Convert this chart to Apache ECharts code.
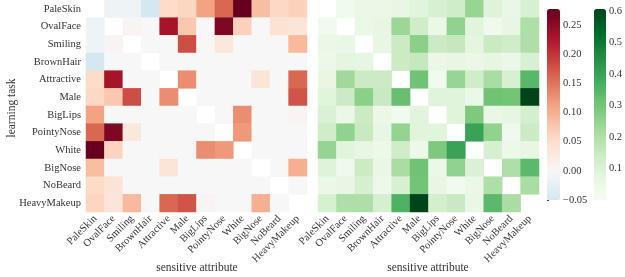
<!DOCTYPE html>
<html><head><meta charset="utf-8">
<script src="https://cdn.jsdelivr.net/npm/echarts@6/dist/echarts.min.js"></script>
<style>html,body{margin:0;padding:0;background:#fff}#c{width:625px;height:277px}</style>
</head><body><div id="c"></div>
<script>
const labels = ['PaleSkin','OvalFace','Smiling','BrownHair','Attractive','Male','BigLips','PointyNose','White','BigNose','NoBeard','HeavyMakeup'];
// left matrix (rows = learning task, cols = sensitive attribute); null = masked diagonal
const corrRows = [
[null,-0.013,-0.013,-0.05,0.052,0.06,0.112,0.16,0.277,0.085,0.058,0.065],
[-0.013,null,0.005,0,0.23,0.075,0,0.26,0.065,0,0.04,0.035],
[-0.013,0.005,null,0,0,0.18,0,0.03,0,0,0,0.09],
[-0.05,0,0,null,0,0,0,0,0,0,0,0],
[0.052,0.23,0,0,null,0.13,0,0,0,0.035,0,0.16],
[0.057,0.075,0.18,0,0.13,null,0,0,0,0,0,0.175],
[0.112,0,0,0,0,0,null,0,0.13,0,0,0.005],
[0.16,0.26,0.03,0,0,0,0,null,0.12,0,0,0],
[0.277,0.063,0,0,0,0,0.13,0.12,null,0,0,0],
[0.085,0,0,0,0.035,0,0,0,0,null,0,0.1],
[0.055,0.038,0,0,0,0,0,0,0,0,null,0],
[0.06,0.035,0.09,0,0.16,0.175,0.005,0,0,0.1,0,null]
];
// right matrix
const miRows = [
[null,0.025,0.05,0.05,0.065,0.085,0.11,0.13,0.243,0.09,0.055,0.11],
[0.025,null,0.05,0.065,0.235,0.13,0.05,0.255,0.085,0.035,0.058,0.2],
[0.05,0.055,null,0.065,0.14,0.265,0.14,0.155,0.075,0.145,0.13,0.2],
[0.045,0.075,0.07,null,0.14,0.155,0.05,0.065,0.05,0.07,0.05,0.11],
[0.065,0.228,0.14,0.14,null,0.31,0.025,0.243,0.13,0.21,0.11,0.345],
[0.085,0.14,0.265,0.15,0.32,null,0.088,0.088,0.05,0.31,0.303,0.607],
[0.1,0.05,0.14,0.05,0.025,0.08,null,0.088,0.285,0.055,0.07,0.12],
[0.13,0.255,0.15,0.058,0.25,0.085,0.085,null,0.4,0.255,0.03,0.14],
[0.245,0.085,0.06,0.045,0.13,0.045,0.285,0.4,null,0.115,0.045,0.06],
[0.09,0.035,0.14,0.055,0.21,0.31,0.05,0.255,0.1,null,0.2,0.34],
[0.05,0.058,0.115,0.045,0.11,0.305,0.065,0.025,0.05,0.2,null,0.21],
[0.11,0.2,0.2,0.115,0.36,0.607,0.12,0.15,0.055,0.34,0.21,null]
];
const corrMin = -0.05, corrMax = 0.277;
const miMin = 0, miMax = 0.607;
const corrTicks = [-0.05,0,0.05,0.10,0.15,0.20,0.25];
const miTicks = [0.1,0.2,0.3,0.4,0.5,0.6];

const RdBu_r = ['#053061','#2166ac','#4393c3','#92c5de','#d1e5f0','#f7f7f7','#fddbc7','#f4a582','#d6604d','#b2182b','#67001f'];
const Greens = ['#f7fcf5','#e5f5e0','#c7e9c0','#a1d99b','#74c476','#41ab5d','#238b45','#006d2c','#00441b'];
function hex(c){return [1,3,5].map(i=>parseInt(c.substr(i,2),16));}
function sample(stops,t){
  t=Math.max(0,Math.min(1,t));const n=stops.length-1;const p=t*n;const i=Math.min(Math.floor(p),n-1);const f=p-i;
  const a=hex(stops[i]),b=hex(stops[i+1]);
  return 'rgb('+a.map((v,k)=>Math.round(v+(b[k]-v)*f)).join(',')+')';
}
const N=80;
const vr=Math.max(corrMax,-corrMin);
const redColors=[];for(let k=0;k<=N;k++){const v=corrMin+(corrMax-corrMin)*k/N;redColors.push(sample(RdBu_r,0.5+v/(2*vr)));}
const greenColors=[];for(let k=0;k<=N;k++){greenColors.push(sample(Greens,k/N));}

function toData(rows){const d=[];rows.forEach((r,i)=>r.forEach((v,j)=>{if(v!==null)d.push([j,i,v]);}));return d;}

const font='Liberation Serif';
const tc='#333';
const cellGrid={top:0,height:212,width:221};
const ch=echarts.init(document.getElementById('c'),null,{renderer:'canvas'});
function catX(gi,showLabel){return {type:'category',gridIndex:gi,data:labels,axisLine:{show:false},axisTick:{show:false},splitLine:{show:false},
  axisLabel:{show:showLabel,rotate:45,margin:5,fontFamily:font,fontSize:10.5,color:tc,interval:0}};}
function catY(gi,showLabel){return {type:'category',gridIndex:gi,data:labels,inverse:true,axisLine:{show:false},axisTick:{show:false},splitLine:{show:false},
  axisLabel:{show:showLabel,margin:5,fontFamily:font,fontSize:10.5,color:tc,interval:0}};}
function fmt(v){return (v<0?'\u2212':'')+Math.abs(v).toFixed(2);}
function fmt1(v){return v.toFixed(1);}
const option={
  animation:false,
  grid:[
    Object.assign({left:86},cellGrid),
    Object.assign({left:318},cellGrid),
    {left:547,top:9,width:13,height:191},
    {left:594,top:9,width:12,height:191}
  ],
  xAxis:[catX(0,true),catX(1,true),
    {type:'value',gridIndex:2,show:false,min:0,max:1},
    {type:'value',gridIndex:3,show:false,min:0,max:1}],
  yAxis:[catY(0,true),catY(1,false),
    {type:'value',gridIndex:2,position:'right',min:corrMin,max:corrMax,axisLine:{show:false},splitLine:{show:false},
      axisTick:{show:true,length:2,customValues:corrTicks,lineStyle:{color:'#444'}},
      axisLabel:{margin:3,fontFamily:font,fontSize:10.5,color:tc,customValues:corrTicks,formatter:fmt}},
    {type:'value',gridIndex:3,position:'right',min:miMin,max:miMax,axisLine:{show:false},splitLine:{show:false},
      axisTick:{show:true,length:2,customValues:miTicks,lineStyle:{color:'#444'}},
      axisLabel:{margin:3,fontFamily:font,fontSize:10.5,color:tc,customValues:miTicks,formatter:fmt1}}
  ],
  visualMap:[
    {type:'continuous',seriesIndex:0,min:corrMin,max:corrMax,left:547,top:9,itemWidth:13,itemHeight:191,padding:0,calculable:false,
      inRange:{color:redColors},textStyle:{fontSize:0},hoverLink:false},
    {type:'continuous',seriesIndex:1,min:miMin,max:miMax,left:594,top:9,itemWidth:12,itemHeight:191,padding:0,calculable:false,
      inRange:{color:greenColors},textStyle:{fontSize:0},hoverLink:false}
  ],
  series:[
    {type:'heatmap',xAxisIndex:0,yAxisIndex:0,data:toData(corrRows),itemStyle:{borderWidth:0},emphasis:{disabled:true}},
    {type:'heatmap',xAxisIndex:1,yAxisIndex:1,data:toData(miRows),itemStyle:{borderWidth:0},emphasis:{disabled:true}}
  ],
  graphic:[
    {type:'text',x:12,y:108,rotation:Math.PI/2,style:{text:'learning task',fontFamily:font,fontSize:11.5,fill:tc,align:'center',verticalAlign:'middle'}},
    {type:'text',x:197,y:268,style:{text:'sensitive attribute',fontFamily:font,fontSize:11.5,fill:tc,align:'center',verticalAlign:'middle'}},
    {type:'text',x:428,y:268,style:{text:'sensitive attribute',fontFamily:font,fontSize:11.5,fill:tc,align:'center',verticalAlign:'middle'}}
  ]
};
ch.setOption(option);
</script></body></html>
